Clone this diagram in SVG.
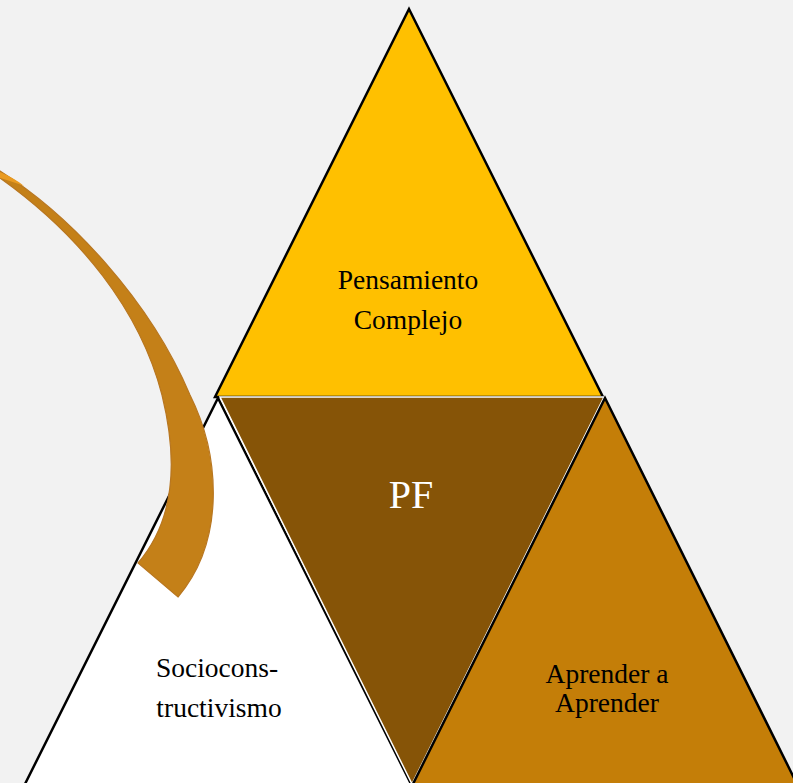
<svg xmlns="http://www.w3.org/2000/svg" width="793" height="783" viewBox="0 0 793 783">
<style>
.tri{stroke:#000;stroke-width:2.5;stroke-linejoin:miter}
.lbl{font-family:"Liberation Serif","Times New Roman",serif;font-size:27.5px;fill:#000;text-anchor:middle}
</style>
<rect width="793" height="783" fill="#F2F2F2"/>
<g id="node-socioconstructivismo">
<polygon class="tri" points="218,398 413,788 23,788" fill="#FFFFFF"/>
<text class="lbl" x="217" y="677">Sociocons-</text>
<text class="lbl" x="219" y="717">tructivismo</text>
</g>
<g id="node-pensamiento">
<polygon class="tri" points="409,9 603,397 215,397" fill="#FFC000"/>
<text class="lbl" x="408" y="289">Pensamiento</text>
<text class="lbl" x="408" y="329">Complejo</text>
</g>
<g id="node-pf">
<polygon points="220,397 604,397 412,784" fill="#865407" stroke="#FFFFFF" stroke-width="1.5"/>
<text x="411" y="508" font-family="&quot;Liberation Serif&quot;,&quot;Times New Roman&quot;,serif" font-size="40" fill="#FFFFFF" text-anchor="middle">PF</text>
</g>
<g id="node-aprender">
<polygon class="tri" points="605,398 799,788 411,788" fill="#C47E08"/>
<text class="lbl" x="607" y="683">Aprender a</text>
<text class="lbl" x="607" y="712">Aprender</text>
</g>
<g id="connectors">
<path d="M0,171 C70,215 150,300 190,395 C220,455 226,540 178,597 L138,563 C175,520 178,460 162,395 C140,310 80,235 0,178 Z" fill="#C48018" stroke="#B87620" stroke-width="1.2"/>
<path d="M0,172 C10,176 18,181 24,186 C16,183 8,180 0,178 Z" fill="#E99A20"/>
</g>
</svg>
